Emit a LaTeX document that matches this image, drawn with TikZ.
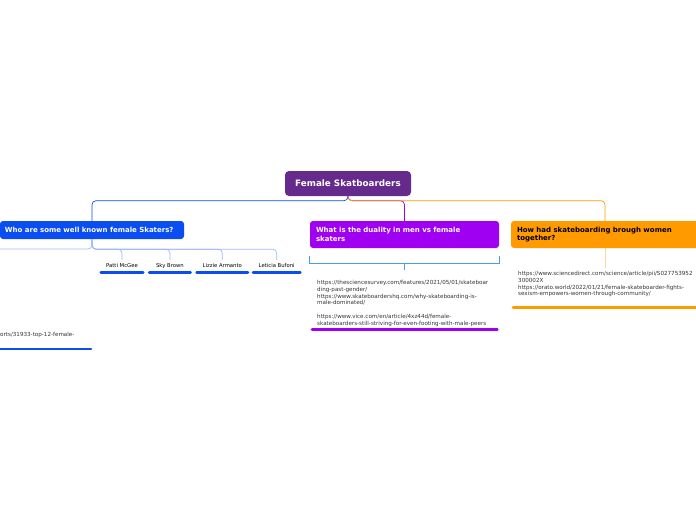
\documentclass[tikz,border=0pt]{standalone}
\usepackage{fontspec}
\setmainfont{DejaVu Sans}
\usetikzlibrary{positioning,calc}
\definecolor{rootpurple}{HTML}{652A8C}
\definecolor{skblue}{HTML}{0A4DF0}
\definecolor{dualpurple}{HTML}{A000F2}
\definecolor{togorange}{HTML}{FF9A00}
\definecolor{lineblue}{HTML}{9DB8F7}
\definecolor{bracketblue}{HTML}{4A9BEA}
\definecolor{lightorange}{HTML}{FFD59A}
\definecolor{urlgrey}{HTML}{333333}

\begin{document}
\begin{tikzpicture}[x=1pt,y=-1pt,
  rootbox/.style={rounded corners=4pt,fill=rootpurple,text=white,minimum width=126pt,minimum height=25pt,font=\fontsize{8.8}{10}\selectfont\bfseries},
  branch/.style={rounded corners=3pt,text=white,align=left,inner xsep=5pt,font=\fontsize{7}{8.8}\selectfont\bfseries},
  leaf/.style={minimum height=12pt,inner xsep=0pt,font=\fontsize{5.3}{6}\selectfont},
  urltext/.style={align=left,text=urlgrey,inner xsep=5pt,inner ysep=3pt,font=\fontsize{5.6}{6.8}\selectfont},
  bar/.style={line width=2.6pt,line cap=round},
  conn/.style={line width=0.7pt,rounded corners=4pt}]
  \useasboundingbox (0,0) rectangle (696,520);

  \node[rootbox] (root) at (348,183.5) {Female Skatboarders};

  % main branches
  \node[branch,fill=skblue,minimum width=184pt,minimum height=18pt,text width=174pt] (who) at (92,230) {Who are some well known female Skaters?};
  \node[branch,fill=dualpurple,minimum width=189pt,minimum height=27pt,text width=177pt,inner xsep=6pt] (dual) at (404.5,234.5) {What is the duality in men vs female\\skaters};
  \node[branch,fill=togorange,text=black,minimum width=188pt,minimum height=27pt,text width=176pt,inner xsep=6pt] (how) at (605,234.5) {How had skateboarding brough women\\together?};

  \draw[conn,dualpurple] (root.south) -- ++(0,4.5) -| (dual.north);
  \draw[conn,togorange] (root.south) -- ++(0,4.5) -| (how.north);
  \draw[conn,skblue] (root.south) -- ++(0,4.5) -| (who.north);

  % skaters
  \node[leaf,minimum width=42pt] (patti) at (122,266) {Patti McGee};
  \node[leaf,minimum width=41pt,right=6pt of patti] (sky) {Sky Brown};
  \node[leaf,minimum width=51pt,right=6pt of sky] (lizzie) {Lizzie Armanto};
  \node[leaf,minimum width=47pt,right=5pt of lizzie] (leticia) {Leticia Bufoni};
  \coordinate (offleft) at (0,249);
  \foreach \s in {patti,sky,lizzie,leticia}{
    \draw[conn,lineblue] (who.south) -- ++(0,10) -| (\s.north);
    \draw[bar,skblue] (\s.south west) -- (\s.south east);
  }
  \draw[conn,lineblue] (who.south) |- (offleft);

  \node[urltext,anchor=west,inner xsep=0pt] (sports) at (0,335) {orts/31933-top-12-female-};
  \draw[bar,skblue] ($(sports.west)+(0,14)$) -- ++(91,0);

  % duality links
  \node[urltext,anchor=north west,minimum width=185pt,text width=175pt] (dualurls) at (312,277) {https://thesciencesurvey.com/features/2021/05/01/skateboar\\ding-past-gender/\\https://www.skateboardershq.com/why-skateboarding-is-\\male-dominated/\\[6.8pt]https://www.vice.com/en/article/4xz44d/female-\\skateboarders-still-striving-for-even-footing-with-male-peers};
  \draw[bar,dualpurple] (dualurls.south west) -- (dualurls.south east);
  \draw[conn,bracketblue,rounded corners=0pt] ($(dual.south west)+(0,8)$) -- ++(0,7) -- ($(dual.south east)+(0,15)$) -- ++(0,-7);
  \draw[conn,bracketblue] ($(dual.south)+(0,15)$) -- ++(0,7);

  % together links
  \node[urltext,anchor=north west,minimum width=186pt,minimum height=46pt,text width=176pt] (howurls) at (513,261) {https://www.sciencedirect.com/science/article/pii/S027753952\\300002X\\https://orato.world/2022/01/21/female-skateboarder-fights-\\sexism-empowers-women-through-community/};
  \draw[bar,togorange] (howurls.south west) -- (howurls.south east);
  \draw[conn,lightorange] (how.south) -- ++(0,20);
\end{tikzpicture}
\end{document}
